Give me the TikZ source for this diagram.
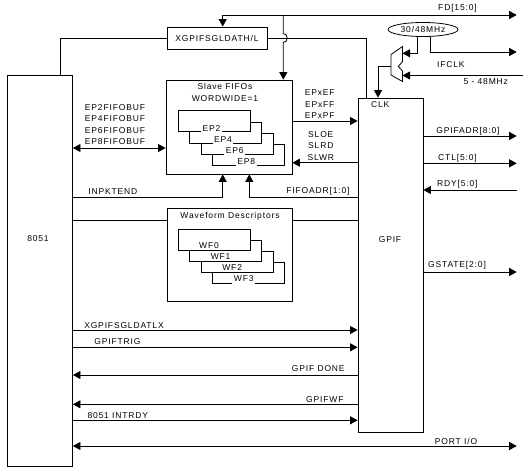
\documentclass[tikz,border=0pt]{standalone}
\usepackage{fontspec}
\setmainfont{Liberation Sans}[LetterSpace=10]
\usetikzlibrary{
  arrows.meta,
  shapes.geometric
}

\tikzset{
  blk/.style={draw, inner sep=0pt},
  lbl/.style={inner sep=0pt, align=center, font=\fontsize{8.5}{11.5}\selectfont},
  stk/.style={draw, fill=white, minimum width=72pt, minimum height=21pt, inner sep=0pt},
  stklbl/.style={lbl, fill=white, inner sep=1.5pt}
}

\begin{document}
\begin{tikzpicture}[x=1pt,y=-1pt,line width=0.8pt,>={Triangle[length=7.5pt,width=8pt]}]
            \useasboundingbox (0,0) rectangle (528,474);

            % blocks
            \node[blk, minimum width=65pt, minimum height=391pt] (cpu) at (40,270.5) {};
            \node[lbl] (cpulbl) at (38,239) {8051};
            \node[blk, lbl, draw, minimum width=100pt, minimum height=22pt] (hreg) at (217,38) {XGPIFSGLDATH/L};
            \node[blk, minimum width=126pt, minimum height=94pt] (fifo) at (229,127) {};
            \node[lbl] (fifolbl) at (225,92.5) {Slave FIFOs\\WORDWIDE=1};
            \node[blk, minimum width=125pt, minimum height=93.5pt] (wave) at (229.7,255) {};
            \node[lbl] (wavelbl) at (230,216.7) {Waveform Descriptors};
            \node[blk, minimum width=65pt, minimum height=334pt] (gpif) at (390.5,265) {};
            \node[lbl] (gpiflbl) at (390,240) {GPIF};
            \node[lbl] (clklbl) at (380.3,104.7) {CLK};
            \node[draw, ellipse, lbl, minimum width=70pt, minimum height=14pt] (osc) at (423,29.5) {30/48MHz};

            % stacked buffers
            \foreach \i/\nm in {3/EP8,2/EP6,1/EP4,0/EP2}{
              \node[stk] (ep\i) at ({214+11.6*\i},{121.2+11.2*\i}) {};
              \node[stklbl] (lep\i) at ([xshift=-2.5pt,yshift=4pt]ep\i.south) {\nm};
            }
            \foreach \i/\nm in {3/WF3,2/WF2,1/WF1,0/WF0}{
              \node[stk] (wf\i) at ({214+11.6*\i},{239.5+11.2*\i}) {};
              \node[stklbl] (lwf\i) at ([xshift=-5pt,yshift=5pt]wf\i.south) {\nm};
            }

            % clock mux
            \draw (391,54.5) -- (402.5,46.5) -- (402.5,61.5) -- (398.3,66.5) -- (402.5,71) -- (402.5,81.5) -- (391,75) -- cycle;
            \coordinate (muxin1) at (402.5,53.3);
            \coordinate (muxin2) at (402.5,75.5);
            \coordinate (muxout) at (391,66.5);

            % free ends
            \coordinate (fd) at (516.7,15);
            \coordinate (oscout) at (516.7,52);
            \coordinate (ifclk) at (523,75.5);
            \coordinate (adr) at (516.7,136);
            \coordinate (ctl) at (516.7,163.3);
            \coordinate (rdy) at (516.7,190);
            \coordinate (gst) at (516.7,272);
            \coordinate (port) at (516.7,446);

            % FD bus and XGPIFSGLDATH/L
            \draw[<->] (hreg.north -| 222.7,0) -- (222.7,15) -- (fd);
            \draw[->] (283.3,15) -- (283.3,33.5) .. controls (288.5,33.5) and (288.5,42.5) .. (283.3,42.5) -- (fifo.north -| 283.3,0);
            \draw (cpu.north -| 60,0) |- (hreg.west);
            \draw (hreg.east) -| (gpif.north -| 366.7,0);

            % clock
            \draw[->] (osc.south -| 417.3,0) |- (muxin1);
            \draw[->] (osc.south -| 430.7,0) |- (oscout);
            \draw[->] (ifclk) -- (muxin2);
            \draw[->] (muxout) -| (gpif.north -| 378,0);

            % slave fifo signals
            \draw[<->] (cpu.east |- 0,148) -- (fifo.west |- 0,148);
            \draw[->] (fifo.east |- 0,121) -- (gpif.west |- 0,121);
            \draw[->] (gpif.west |- 0,162.7) -- (fifo.east |- 0,162.7);
            \draw[->] (gpif.west |- 0,197) -| (fifo.south -| 249.3,0);
            \draw[->] (cpu.east |- 0,197) -| (fifo.south -| 222.7,0);
            \draw (cpu.east |- 0,220) -- (wave.west |- 0,220);
            \draw (wave.east |- 0,220) -- (gpif.west |- 0,220);

            % gpif outputs
            \draw[->] (gpif.east |- adr) -- (adr);
            \draw[->] (gpif.east |- ctl) -- (ctl);
            \draw[->] (rdy) -- (gpif.east |- rdy);
            \draw[->] (gpif.east |- gst) -- (gst);

            % 8051 <-> gpif
            \draw[->] (cpu.east |- 0,330) -- (gpif.west |- 0,330);
            \draw[->] (cpu.east |- 0,347.3) -- (gpif.west |- 0,347.3);
            \draw[->] (gpif.west |- 0,375) -- (cpu.east |- 0,375);
            \draw[->] (gpif.west |- 0,404.3) -- (cpu.east |- 0,404.3);
            \draw[->] (cpu.east |- 0,420.3) -- (gpif.west |- 0,420.3);
            \draw[<->] (cpu.east |- port) -- (port);

            % labels
            \node[lbl] (fdlbl) at (457.5,8.3) {FD[15:0]};
            \node[lbl] (iflbl) at (450.8,65) {IFCLK};
            \node[lbl] (rnglbl) at (485.8,81.7) {5 - 48MHz};
            \node[lbl] (buflbl) at (115,124.7) {EP2FIFOBUF\\EP4FIFOBUF\\EP6FIFOBUF\\EP8FIFOBUF};
            \node[lbl] (flaglbl) at (319.7,104.2) {EPxEF\\EPxFF\\EPxPF};
            \node[lbl] (stblbl) at (320.8,145.8) {SLOE\\SLRD\\SLWR};
            \node[lbl] (fadrlbl) at (318,191.7) {FIFOADR[1:0]};
            \node[lbl] (inplbl) at (112.8,191.7) {INPKTEND};
            \node[lbl] (adrlbl) at (468,131.7) {GPIFADR[8:0]};
            \node[lbl] (ctllbl) at (457.5,158.3) {CTL[5:0]};
            \node[lbl] (rdylbl) at (457.3,184.3) {RDY[5:0]};
            \node[lbl] (gstlbl) at (457,265.5) {GSTATE[2:0]};
            \node[lbl] (lxlbl) at (124,325.7) {XGPIFSGLDATLX};
            \node[lbl] (trglbl) at (117.5,341.7) {GPIFTRIG};
            \node[lbl] (donelbl) at (318.3,368.3) {GPIF DONE};
            \node[lbl] (wflbl) at (324.8,399.3) {GPIFWF};
            \node[lbl] (intlbl) at (117.8,415.7) {8051 INTRDY};
            \node[lbl] (portlbl) at (456,441.7) {PORT I/O};
        \end{tikzpicture}
\end{document}
